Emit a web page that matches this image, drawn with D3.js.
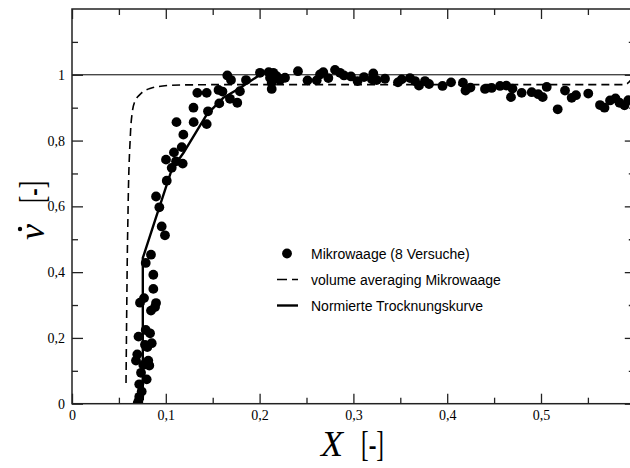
<!DOCTYPE html>
<html>
<head>
<meta charset="utf-8">
<script src="https://cdn.jsdelivr.net/npm/d3@7"></script>
<style>
  html, body { margin: 0; padding: 0; background: #fff; }
  svg { display: block; }
</style>
</head>
<body>
<svg id="chart" width="630" height="468"></svg>
<script>
// Mikrowaage measurements (8 runs): moisture content X and normalised drying rate
const mwX = [0.070,0.0707,0.0717,0.0743,0.0717,0.0796,0.0736,0.076,0.0824,0.0682,0.0813,0.0696,0.0803,0.085,0.0778,
  0.0709,0.0832,0.0786,0.0842,0.0885,0.0896,0.0725,0.0768,0.0867,0.0867,0.0786,0.0842,0.0991,0.0956,0.0931,
  0.0896,0.101,0.1063,0.1002,0.1109,0.118,0.1087,0.117,0.1187,0.1114,0.1297,0.1436,0.1295,0.145,0.1336,
  0.1436,0.1562,0.1604,0.157,0.1684,0.1762,0.179,0.1656,0.1695,0.1855,0.2004,0.2097,0.2146,0.2111,0.2182,
  0.2217,0.2129,0.2129,0.2271,0.2409,0.2511,0.2609,0.2644,0.2679,0.2733,0.2804,0.2857,0.290,0.2974,0.3044,
  0.3113,0.3212,0.3198,0.3248,0.3337,0.3475,0.3515,0.3603,0.3657,0.3699,0.3763,0.3806,0.395,0.4041,0.4168,
  0.4195,0.4248,0.4403,0.4474,0.4563,0.463,0.468,0.4696,0.4794,0.4901,0.4971,0.5018,0.5061,0.5178,0.5256,
  0.5327,0.5373,0.5504,0.5629,0.5677,0.5736,0.5794,0.5837,0.589,0.5931];
const mwNu = [0.001,0.006,0.021,0.037,0.059,0.074,0.094,0.118,0.116,0.131,0.131,0.150,0.172,0.184,0.179,
  0.204,0.214,0.224,0.283,0.294,0.306,0.307,0.321,0.349,0.392,0.428,0.453,0.512,0.539,0.597,
  0.630,0.678,0.717,0.742,0.737,0.730,0.764,0.780,0.818,0.856,0.856,0.850,0.900,0.889,0.945,
  0.945,0.954,0.949,0.913,0.927,0.915,0.950,0.998,0.984,0.984,1.006,1.008,1.006,0.991,0.996,
  0.984,0.957,0.976,0.991,1.011,0.983,0.983,1.001,1.008,0.990,1.015,1.006,0.998,0.995,0.981,
  0.993,1.004,0.986,0.984,0.988,0.977,0.986,0.990,0.981,0.967,0.981,0.972,0.966,0.977,0.976,
  0.952,0.961,0.957,0.960,0.966,0.967,0.932,0.958,0.945,0.947,0.941,0.932,0.963,0.895,0.952,
  0.930,0.938,0.943,0.908,0.900,0.922,0.928,0.915,0.907,0.923];

// volume averaging Mikrowaage (model curve)
const vaX  = [0.0576,0.0584,0.0594,0.0618,0.0640,0.0665,0.0707,0.0830,0.1040,0.150,0.590,0.597];
const vaNu = [0.063,0.300,0.530,0.790,0.880,0.915,0.935,0.958,0.968,0.970,0.970,0.990];

// Normierte Trocknungskurve
const ntX  = [0.0755,0.0755,0.0887,0.1063,0.1187,0.1436,0.1613,0.1791,0.2004];
const ntNu = [0.010,0.443,0.559,0.712,0.762,0.879,0.930,0.960,1.000];

const xMajor = [0, 0.1, 0.2, 0.3, 0.4, 0.5];
const xLabels = ["0", "0,1", "0,2", "0,3", "0,4", "0,5"];
const yMajor = [0, 0.2, 0.4, 0.6, 0.8, 1.0];
const yLabels = ["0", "0,2", "0,4", "0,6", "0,8", "1"];

const legendLabels = ["Mikrowaage (8 Versuche)", "volume averaging Mikrowaage", "Normierte Trocknungskurve"];

const svg = d3.select("#chart");
const pLeft = 72, pTop = 9, pRight = 634.8, pBottom = 403.7;

const x = d3.scaleLinear().domain([0, 0.6]).range([pLeft, pRight]);
const y = d3.scaleLinear().domain([0, 1.2]).range([pBottom, pTop]);

const serif = "'Liberation Serif', 'Times New Roman', serif";
const sans = "'Liberation Sans', Arial, sans-serif";

svg.append("defs").append("clipPath").attr("id", "plot")
  .append("rect").attr("x", pLeft).attr("y", pTop).attr("width", pRight - pLeft).attr("height", pBottom - pTop);

const plot = svg.append("g").attr("clip-path", "url(#plot)");

// reference line at 1
plot.append("line")
  .attr("x1", x(0)).attr("x2", x(0.6))
  .attr("y1", y(1)).attr("y2", y(1))
  .attr("stroke", "#000").attr("stroke-width", 1);

const line = d3.line().x(d => x(d[0])).y(d => y(d[1]));

plot.append("path")
  .datum(vaX.map((v, i) => [v, vaNu[i]]))
  .attr("d", d3.line().curve(d3.curveMonotoneY).x(d => x(d[0])).y(d => y(d[1])))
  .attr("fill", "none").attr("stroke", "#000").attr("stroke-width", 1.6)
  .attr("stroke-dasharray", "8,5");

plot.append("path")
  .datum(ntX.map((v, i) => [v, ntNu[i]]))
  .attr("d", line)
  .attr("fill", "none").attr("stroke", "#000").attr("stroke-width", 2.4)
  .attr("stroke-linejoin", "round");

plot.selectAll("circle.mw")
  .data(mwX.map((v, i) => [v, mwNu[i]]))
  .join("circle")
  .attr("class", "mw")
  .attr("cx", d => x(d[0])).attr("cy", d => y(d[1]))
  .attr("r", 4.9).attr("fill", "#000");

// frame and ticks
const frame = svg.append("g").attr("stroke", "#222").attr("stroke-width", 1.5).attr("fill", "none");
frame.append("rect").attr("x", pLeft).attr("y", pTop).attr("width", pRight - pLeft).attr("height", pBottom - pTop);

const xTicksMinor = d3.range(0.05, 0.6, 0.1);
const yTicksMinor = d3.range(0.1, 1.2, 0.2);

const axBottom = svg.append("g").attr("transform", `translate(0,${pBottom})`)
  .call(d3.axisBottom(x).tickValues(xMajor).tickSize(-10).tickFormat((d, i) => xLabels[i]).tickPadding(6));
const axBottomMinor = svg.append("g").attr("transform", `translate(0,${pBottom})`)
  .call(d3.axisBottom(x).tickValues(xTicksMinor).tickSize(-6).tickFormat(""));
const axTop = svg.append("g").attr("transform", `translate(0,${pTop})`)
  .call(d3.axisTop(x).tickValues(xMajor).tickSize(-10).tickFormat(""));
const axTopMinor = svg.append("g").attr("transform", `translate(0,${pTop})`)
  .call(d3.axisTop(x).tickValues(xTicksMinor).tickSize(-6).tickFormat(""));
const axLeft = svg.append("g").attr("transform", `translate(${pLeft},0)`)
  .call(d3.axisLeft(y).tickValues(yMajor).tickSize(-11).tickFormat((d, i) => yLabels[i]).tickPadding(7));
const axLeftMinor = svg.append("g").attr("transform", `translate(${pLeft},0)`)
  .call(d3.axisLeft(y).tickValues(yTicksMinor).tickSize(-6).tickFormat(""));
const axRight = svg.append("g").attr("transform", `translate(${pRight},0)`)
  .call(d3.axisRight(y).tickValues(yMajor).tickSize(-10).tickFormat(""));
const axRightMinor = svg.append("g").attr("transform", `translate(${pRight},0)`)
  .call(d3.axisRight(y).tickValues(yTicksMinor).tickSize(-6).tickFormat(""));

[axBottom, axBottomMinor, axTop, axTopMinor, axLeft, axLeftMinor, axRight, axRightMinor].forEach(g => {
  g.attr("font-family", null).attr("font-size", null);
  g.select(".domain").remove();
  g.selectAll(".tick line").attr("stroke", "#222").attr("stroke-width", 1.3);
  g.selectAll("text").style("font-family", serif).style("font-size", "14px").attr("fill", "#000");
});

// axis titles
svg.append("text")
  .attr("x", 321).attr("y", 456)
  .style("font-family", serif).style("font-size", "36px").style("font-style", "italic")
  .text("X");
svg.append("text")
  .attr("x", 361).attr("y", 456)
  .style("font-family", serif).style("font-size", "36px")
  .attr("textLength", 23).attr("lengthAdjust", "spacingAndGlyphs")
  .text("[-]");

const yTitle = svg.append("g").attr("transform", "translate(44,240) rotate(-90)");
yTitle.append("text")
  .attr("x", 0).attr("y", 0)
  .style("font-family", serif).style("font-size", "36px").style("font-style", "italic")
  .text("\u03bd");
// rate dot above the nu
yTitle.append("circle")
  .attr("cx", 11).attr("cy", -24).attr("r", 2.2).attr("fill", "#000");
yTitle.append("text")
  .attr("x", 37).attr("y", 0)
  .style("font-family", serif).style("font-size", "36px")
  .attr("textLength", 22).attr("lengthAdjust", "spacingAndGlyphs")
  .text("[-]");

// legend
const lg = svg.append("g");
const lgY = [253.5, 279.5, 305.5];
lg.append("circle").attr("cx", 287).attr("cy", lgY[0]).attr("r", 4.9).attr("fill", "#000");
lg.append("line").attr("x1", 277).attr("x2", 298).attr("y1", lgY[1]).attr("y2", lgY[1])
  .attr("stroke", "#000").attr("stroke-width", 1.6).attr("stroke-dasharray", "10,5");
lg.append("line").attr("x1", 277).attr("x2", 298).attr("y1", lgY[2]).attr("y2", lgY[2])
  .attr("stroke", "#000").attr("stroke-width", 2.4);
lg.selectAll("text.lab").data(legendLabels).join("text")
  .attr("class", "lab")
  .attr("x", 311).attr("y", (d, i) => lgY[i] + 5)
  .style("font-family", sans).style("font-size", "14px").attr("fill", "#000")
  .text(d => d);
</script>
</body>
</html>
